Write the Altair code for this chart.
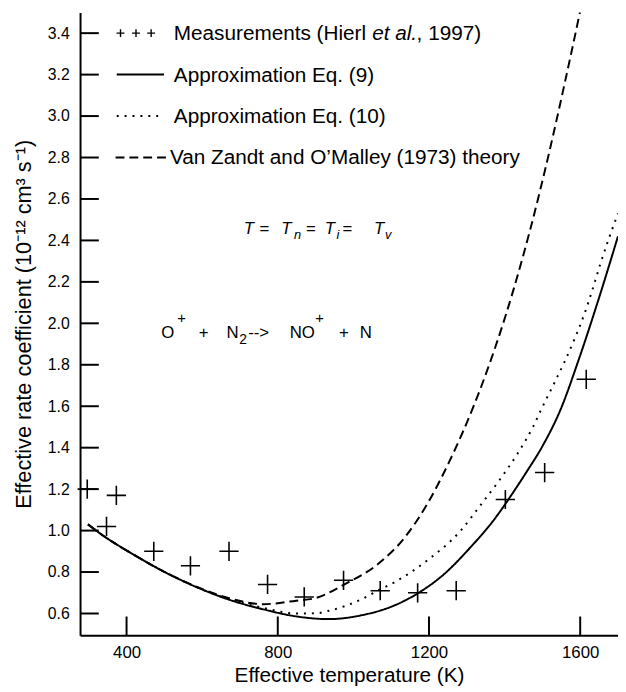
import altair as alt
import pandas as pd

# ---------------- data ----------------
meas_T = [296, 347, 373, 472, 569, 671, 773, 870, 974, 1071, 1170, 1272, 1402, 1506, 1616]
meas_k = [1.20, 1.02, 1.17, 0.90, 0.83, 0.90, 0.74, 0.68, 0.76, 0.71, 0.70, 0.71, 1.15, 1.28, 1.73]

eq9_T = [298, 327, 413, 501, 588, 674, 762, 849, 935, 1023, 1110, 1170, 1240, 1310, 1371,
         1423, 1457, 1501, 1546, 1598, 1650, 1700]
eq9_k = [1.03, 0.99, 0.89, 0.80, 0.725, 0.665, 0.62, 0.586, 0.573, 0.592, 0.64, 0.697, 0.79,
         0.92, 1.05, 1.185, 1.28, 1.41, 1.575, 1.835, 2.124, 2.42]

eq10_T = [298, 327, 413, 501, 588, 674, 762, 849, 901, 935, 1023, 1066, 1110, 1196, 1284, 1337,
          1389, 1431, 1475, 1501, 1535, 1561, 1587, 1611, 1632, 1653, 1676, 1700]
eq10_k = [1.03, 0.99, 0.89, 0.80, 0.725, 0.667, 0.627, 0.60, 0.601, 0.613, 0.67, 0.712, 0.752,
          0.857, 1.0, 1.124, 1.25, 1.362, 1.50, 1.60, 1.725, 1.824, 1.933, 2.045, 2.16, 2.285,
          2.41, 2.53]

vz_T = [298, 327, 413, 501, 588, 674, 762, 849, 901, 979, 1066, 1136, 1196, 1253, 1292, 1318,
        1352, 1376, 1402, 1423, 1449, 1467, 1493, 1527, 1561, 1598, 1606]
vz_k = [1.03, 0.99, 0.89, 0.80, 0.727, 0.672, 0.645, 0.662, 0.675, 0.743, 0.84, 0.967, 1.13,
        1.33, 1.486, 1.60, 1.763, 1.888, 2.033, 2.159, 2.325, 2.447, 2.634, 2.896, 3.175, 3.49,
        3.56]

series_names = ["Eq9", "Eq10", "VanZandt"]

x_ticks = [400, 800, 1200, 1600]
y_ticks = [0.6, 0.8, 1.0, 1.2, 1.4, 1.6, 1.8, 2.0, 2.2, 2.4, 2.6, 2.8, 3.0, 3.2, 3.4]

legend_rows = [3.4, 3.2, 3.0, 2.8]
legend_meas_parts = ["Measurements (Hierl ", "et al.", ", 1997)"]
legend_labels = ["Approximation Eq. (9)", "Approximation Eq. (10)",
                 "Van Zandt and O\u2019Malley (1973) theory"]

x_title = "Effective temperature (K)"
y_title = "Effective rate coefficient (10\u207b\u00b9\u00b2 cm\u00b3 s\u207b\u00b9)"

# ---------------- tables ----------------
curves = pd.concat([
    pd.DataFrame({"T": eq9_T, "k": eq9_k, "series": series_names[0]}),
    pd.DataFrame({"T": eq10_T, "k": eq10_k, "series": series_names[1]}),
    pd.DataFrame({"T": vz_T, "k": vz_k, "series": series_names[2]}),
])
meas = pd.DataFrame({"T": meas_T, "k": meas_k})

FONT = "Liberation Sans"
xs = alt.Scale(domain=[277, 1700], nice=False, zero=False)
ys = alt.Scale(domain=[0.495, 3.5], nice=False, zero=False)

common_axis = dict(domainColor="black", domainWidth=2, labelColor="black", titleColor="black",
                   labelFont=FONT, titleFont=FONT, titleFontWeight="normal", grid=False,
                   ticks=False, tickSize=0)
x_axis = alt.Axis(values=x_ticks, format="d", title=x_title, labelFontSize=17,
                  labelPadding=10, titleFontSize=21, titlePadding=4, **common_axis)
y_axis = alt.Axis(values=y_ticks, format=".1f", title=y_title, labelFontSize=16,
                  labelPadding=11, titleFontSize=22, titlePadding=12, **common_axis)

X = alt.X("T:Q", scale=xs, axis=x_axis)
Y = alt.Y("k:Q", scale=ys, axis=y_axis)

lines = alt.Chart(curves).mark_line(
    color="black", strokeWidth=2, clip=True, interpolate="monotone", strokeCap="butt"
).encode(
    x=X, y=Y,
    strokeDash=alt.StrokeDash("series:N", scale=alt.Scale(
        domain=series_names, range=[[1, 0], [2, 6], [9, 5]]), legend=None),
    detail="series:N",
)

plus_path = "M-1,0L1,0M0,-1L0,1"
points = alt.Chart(meas).mark_point(
    shape=plus_path, size=380, strokeWidth=1.6, color="black", filled=False, opacity=1
).encode(x=X, y=Y)

# inward ticks
xt = alt.Chart(pd.DataFrame({"T": x_ticks})).mark_rule(color="black", strokeWidth=2).encode(
    x=X, y=alt.value(631), y2=alt.value(612))
yt = alt.Chart(pd.DataFrame({"k": y_ticks})).mark_rule(color="black", strokeWidth=2).encode(
    y=Y, x=alt.value(0), x2=alt.value(19))

# legend
leg_plus = alt.Chart(pd.DataFrame({"T": [384, 425, 465], "k": [legend_rows[0]] * 3})).mark_point(
    shape=plus_path, size=64, strokeWidth=1.4, color="black", filled=False, opacity=1
).encode(x=X, y=Y)

leg_lines = []
for (t0, t1, dash), row in zip([(374, 499, [1, 0]), (374, 488, [2, 6]), (371, 515, [9, 5])],
                              legend_rows[1:]):
    leg_lines.append(
        alt.Chart(pd.DataFrame({"T": [t0], "T2": [t1], "k": [row]})).mark_rule(
            color="black", strokeWidth=2, strokeDash=dash, strokeCap="butt"
        ).encode(x=X, x2="T2:Q", y=Y)
    )

def txt(text, T, k, dx=0, dy=0, size=21, italic=False, baseline="middle"):
    return alt.Chart(pd.DataFrame({"T": [T], "k": [k], "t": [text]})).mark_text(
        align="left", baseline=baseline, dx=dx, dy=dy, fontSize=size, font=FONT,
        fontStyle="italic" if italic else "normal", color="black"
    ).encode(x=X, y=Y, text="t:N")

texts = []
# measurements label with italic "et al."
texts.append(txt(legend_meas_parts[0], 525, legend_rows[0], dx=0, dy=1))
texts.append(txt(legend_meas_parts[1], 525, legend_rows[0], dx=201, dy=1, italic=True))
texts.append(txt(legend_meas_parts[2], 525, legend_rows[0], dx=246, dy=1))
texts.append(txt(legend_labels[0], 525, legend_rows[1], dy=1))
texts.append(txt(legend_labels[1], 525, legend_rows[2], dy=1))
texts.append(txt(legend_labels[2], 515, legend_rows[3], dy=1))

# T = Tn = Ti = Tv
tA, kA = 710, 2.43
for s, dx, dy, sz in [("T", 0, 0, 17), ("=", 16, 0, 17), ("T", 38, 0, 17), ("n", 51, 5, 13),
                      ("=", 63, 0, 17), ("T", 82, 0, 17), ("i", 94, 5, 13), ("=", 100, 0, 17),
                      ("T", 132, 0, 17), ("v", 143, 5, 13)]:
    texts.append(txt(s, tA, kA, dx=dx, dy=dy, size=sz, italic=(s != "="), baseline="alphabetic"))

# O+ + N2--> NO+ + N
tR, kR = 492, 1.93
for s, dx, dy, sz in [("O", 0, 0, 17), ("+", 16, -15, 15), ("+", 38, 0, 17), ("N", 66, 0, 17),
                      ("2", 79, 6, 14), ("-->", 88, 0, 17), ("NO", 130, 0, 17),
                      ("+", 156, -15, 15), ("+", 180, 0, 17), ("N", 201, 0, 17)]:
    texts.append(txt(s, tR, kR, dx=dx, dy=dy, size=sz, baseline="alphabetic"))

chart = alt.layer(lines, points, xt, yt, leg_plus, *leg_lines, *texts).properties(
    width=545, height=631,
    autosize=alt.AutoSizeParams(type="none"),
    padding={"left": 73, "top": 0, "right": 0, "bottom": 53},
    background="white",
).configure_view(stroke=None)

chart.save("out.html", embed_options={"renderer": "svg", "actions": False})
